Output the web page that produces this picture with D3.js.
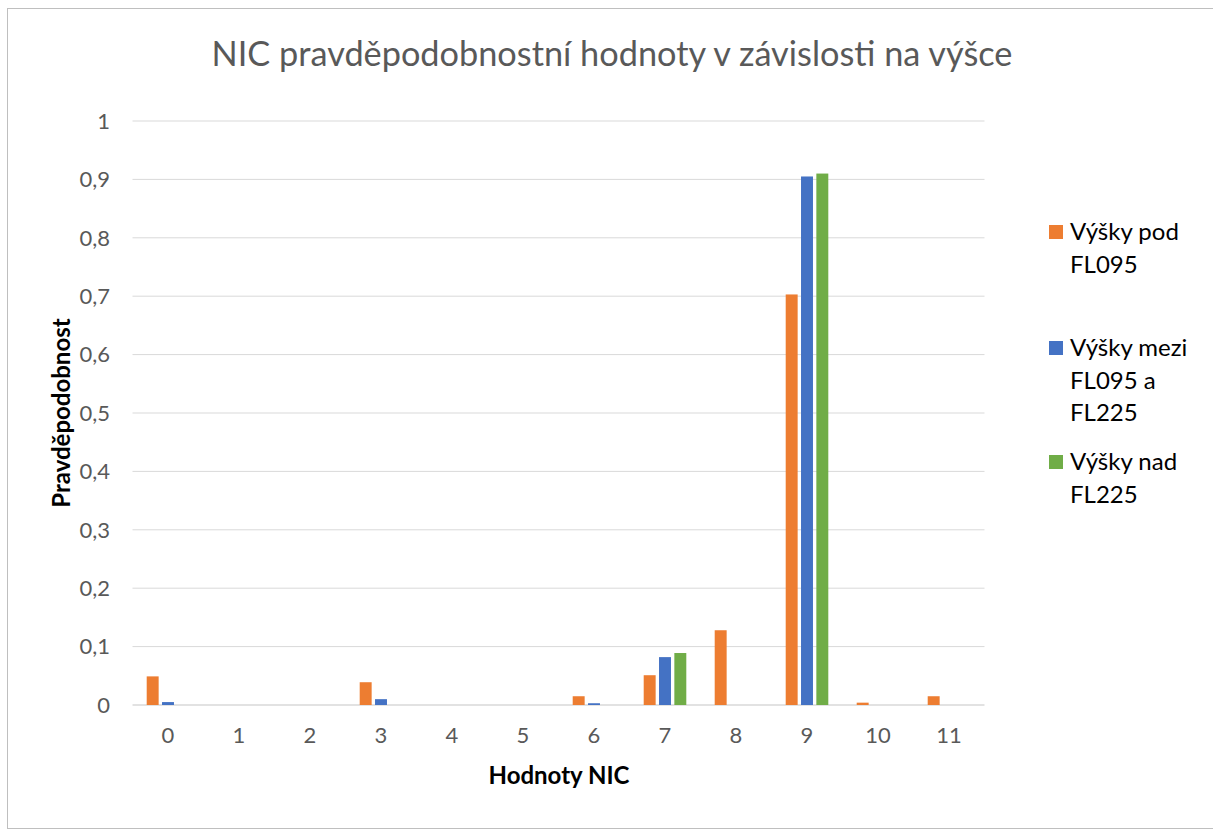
<!DOCTYPE html>
<html>
<head>
<meta charset="utf-8">
<script src="https://cdn.jsdelivr.net/npm/d3@7"></script>
<style>
  body { margin: 0; background: #fff; }
  svg { font-family: Lato, "Open Sans", sans-serif; }
</style>
</head>
<body>
<div id="chart"></div>
<script>
// NIC values on x axis
const categories = ["0", "1", "2", "3", "4", "5", "6", "7", "8", "9", "10", "11"];
const seriesNames = ["Výšky pod FL095", "Výšky mezi FL095 a FL225", "Výšky nad FL225"];
const belowFL095 = [0.049, 0, 0, 0.039, 0, 0, 0.015, 0.051, 0.128, 0.703, 0.004, 0.015];
const betweenFL095FL225 = [0.005, 0, 0, 0.01, 0, 0, 0.003, 0.082, 0, 0.905, 0, 0];
const aboveFL225 = [0, 0, 0, 0, 0, 0, 0, 0.089, 0, 0.91, 0, 0];
const yTicks = [0, 0.1, 0.2, 0.3, 0.4, 0.5, 0.6, 0.7, 0.8, 0.9, 1];
const legendLines = [["Výšky pod", "FL095"], ["Výšky mezi", "FL095 a", "FL225"], ["Výšky nad", "FL225"]];

const colors = ["#ED7D31", "#4472C4", "#70AD47"];
const allSeries = [belowFL095, betweenFL095FL225, aboveFL225];

const width = 1213, height = 834;
const margin = {top: 121, left: 132.5, right: 1213 - 984.5, bottom: 834 - 705};

const svg = d3.select("#chart").append("svg")
    .attr("width", width)
    .attr("height", height);

// outer chart border
svg.append("rect")
    .attr("x", 7.5).attr("y", 8.5)
    .attr("width", 1220).attr("height", 820)
    .attr("fill", "#fff")
    .attr("stroke", "#bfbfbf");

let x0 = d3.scaleBand()
    .domain(categories)
    .range([margin.left, width - margin.right])
    .paddingInner(0.4)
    .paddingOuter(0.2);

let x1 = d3.scaleBand()
    .domain(d3.range(3))
    .range([0, x0.bandwidth()])
    .paddingInner(0.22);

let y = d3.scaleLinear()
    .domain([0, 1])
    .range([height - margin.bottom, margin.top]);

// gridlines
svg.append("g")
    .selectAll("line")
    .data(yTicks)
    .enter().append("line")
    .attr("x1", margin.left)
    .attr("x2", width - margin.right)
    .attr("y1", d => y(d))
    .attr("y2", d => y(d))
    .attr("stroke", "#d9d9d9")
    .attr("stroke-width", d => d === 0 ? 1.5 : 1);

// y tick labels
svg.append("g")
    .selectAll("text")
    .data(yTicks)
    .enter().append("text")
    .attr("x", 110)
    .attr("y", d => y(d))
    .attr("dy", "0.35em")
    .attr("text-anchor", "end")
    .style("font-size", "22px")
    .style("fill", "#595959")
    .text(d => d3.format(".1~f")(d).replace(".", ","));

// bars
let groups = svg.append("g")
    .selectAll("g")
    .data(categories)
    .enter().append("g")
    .attr("transform", d => "translate(" + x0(d) + ",0)");

groups.selectAll("rect")
    .data((d, i) => allSeries.map((s, k) => ({k: k, v: s[i]})))
    .enter().append("rect")
    .attr("x", d => x1(d.k))
    .attr("width", x1.bandwidth())
    .attr("y", d => y(d.v))
    .attr("height", d => y(0) - y(d.v))
    .attr("fill", d => colors[d.k]);

// x tick labels
svg.append("g")
    .selectAll("text")
    .data(categories)
    .enter().append("text")
    .attr("x", d => x0(d) + x0.bandwidth() / 2)
    .attr("y", 743)
    .attr("text-anchor", "middle")
    .style("font-size", "22px")
    .style("fill", "#595959")
    .text(d => d);

// title
svg.append("text")
    .attr("x", 612)
    .attr("y", 66)
    .attr("text-anchor", "middle")
    .style("font-size", "34.3px")
    .style("fill", "#595959")
    .text("NIC pravděpodobnostní hodnoty v závislosti na výšce");

// axis titles
svg.append("text")
    .attr("x", 559)
    .attr("y", 784)
    .attr("text-anchor", "middle")
    .style("font-size", "24px")
    .style("font-weight", "bold")
    .style("fill", "#000")
    .text("Hodnoty NIC");

svg.append("text")
    .attr("transform", "translate(70,413)rotate(-90)")
    .attr("text-anchor", "middle")
    .style("font-size", "24px")
    .style("font-weight", "bold")
    .style("fill", "#000")
    .text("Pravděpodobnost");

// legend
const legendTop = [232, 348, 462];
let legend = svg.append("g")
    .selectAll("g")
    .data(legendLines)
    .enter().append("g")
    .attr("transform", (d, i) => "translate(1049," + legendTop[i] + ")");

legend.append("rect")
    .attr("y", -7)
    .attr("width", 14)
    .attr("height", 14)
    .attr("fill", (d, i) => colors[i]);

legend.append("text")
    .style("font-size", "24px")
    .style("fill", "#000")
    .selectAll("tspan")
    .data(d => d)
    .enter().append("tspan")
    .attr("x", 21)
    .attr("y", (d, i) => i * 32.5)
    .attr("dy", "0.35em")
    .text(d => d);
</script>
</body>
</html>
